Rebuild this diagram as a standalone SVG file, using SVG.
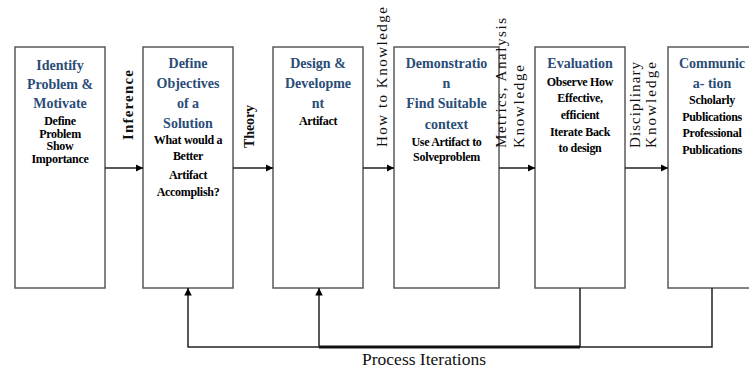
<svg xmlns="http://www.w3.org/2000/svg" width="749" height="369" viewBox="0 0 749 369">
<style>
text{font-family:'Liberation Serif','Times New Roman',Tinos,'DejaVu Serif',serif}
.box{fill:#fff;stroke:#5a5a5a;stroke-width:1.5}
.t{font-weight:bold;font-size:14px;fill:#2a4d78;text-anchor:middle}
.b{font-weight:bold;font-size:12px;fill:#000;text-anchor:middle;letter-spacing:-0.3px}
.lbl{font-size:15px;fill:#111}
.bold{font-weight:bold}
.ln{fill:none;stroke:#222;stroke-width:1.5}
</style>
<defs>
<marker id="ah" viewBox="0 0 10 10" refX="10" refY="5" markerWidth="5" markerHeight="5" orient="auto" markerUnits="strokeWidth">
<path d="M0,0 L10,5 L0,10 z" fill="#000"/>
</marker>
</defs>
<rect width="749" height="369" fill="#fff"/>

<g id="node1">
<rect class="box" x="15" y="47" width="90" height="241"/>
<text class="t" x="60" y="70">Identify</text>
<text class="t" x="60" y="89">Problem &amp;</text>
<text class="t" x="60" y="108">Motivate</text>
<text class="b" x="60" y="125">Define</text>
<text class="b" x="60" y="137.5">Problem</text>
<text class="b" x="60" y="150">Show</text>
<text class="b" x="60" y="162.5">Importance</text>
</g>

<g id="node2">
<rect class="box" x="143" y="47" width="90" height="241"/>
<text class="t" x="188" y="68">Define</text>
<text class="t" x="188" y="88">Objectives</text>
<text class="t" x="188" y="108">of a</text>
<text class="t" x="188" y="128">Solution</text>
<text class="b" x="188" y="144">What would a</text>
<text class="b" x="188" y="160">Better</text>
<text class="b" x="188" y="179">Artifact</text>
<text class="b" x="188" y="196">Accomplish?</text>
</g>

<g id="node3">
<rect class="box" x="273" y="47" width="90" height="241"/>
<text class="t" x="318" y="68">Design &amp;</text>
<text class="t" x="318" y="88">Developme</text>
<text class="t" x="318" y="108">nt</text>
<text class="b" x="318" y="125">Artifact</text>
</g>

<g id="node4">
<rect class="box" x="394" y="47" width="105" height="241"/>
<text class="t" x="446.5" y="68">Demonstratio</text>
<text class="t" x="446.5" y="88">n</text>
<text class="t" x="446.5" y="108">Find Suitable</text>
<text class="t" x="446.5" y="129">context</text>
<text class="b" x="446.5" y="146">Use Artifact to</text>
<text class="b" x="446.5" y="161">Solveproblem</text>
</g>

<g id="node5">
<rect class="box" x="535" y="47" width="90" height="241"/>
<text class="t" x="580" y="68">Evaluation</text>
<text class="b" x="580" y="86">Observe How</text>
<text class="b" x="580" y="102">Effective,</text>
<text class="b" x="580" y="119">efficient</text>
<text class="b" x="580" y="136">Iterate Back</text>
<text class="b" x="580" y="152">to design</text>
</g>

<g id="node6">
<rect class="box" x="668" y="47" width="90" height="241"/>
<text class="t" x="712" y="68">Communic</text>
<text class="t" x="712" y="88">a- tion</text>
<text class="b" x="712" y="104">Scholarly</text>
<text class="b" x="712" y="121">Publications</text>
<text class="b" x="712" y="137">Professional</text>
<text class="b" x="712" y="154">Publications</text>
</g>

<g id="connectors">
<line class="ln" x1="105" y1="168" x2="143" y2="168" marker-end="url(#ah)"/>
<line class="ln" x1="233" y1="168" x2="273" y2="168" marker-end="url(#ah)"/>
<line class="ln" x1="363" y1="168" x2="394" y2="168" marker-end="url(#ah)"/>
<line class="ln" x1="499" y1="168" x2="535" y2="168" marker-end="url(#ah)"/>
<line class="ln" x1="625" y1="168" x2="668" y2="168" marker-end="url(#ah)"/>
<polyline class="ln" points="580,288 580,347 712,347 712,288"/>
<line x1="319" y1="347" x2="580" y2="347" stroke="#111" stroke-width="3"/>
<polyline class="ln" points="319,347 188,347 188,288" marker-end="url(#ah)"/>
<line class="ln" x1="319" y1="347" x2="319" y2="288" marker-end="url(#ah)"/>
</g>

<g id="labels">
<text class="lbl bold" transform="translate(133,140) rotate(-90)" textLength="70" lengthAdjust="spacing">Inference</text>
<text class="lbl bold" transform="translate(254,148) rotate(-90)" style="font-size:14px" textLength="43" lengthAdjust="spacing">Theory</text>
<text class="lbl" transform="translate(387,147) rotate(-90)" textLength="140" lengthAdjust="spacing">How to Knowledge</text>
<text class="lbl" transform="translate(506,148) rotate(-90)" textLength="130" lengthAdjust="spacing">Metrics, Analysis</text>
<text class="lbl" transform="translate(524,148) rotate(-90)" textLength="83" lengthAdjust="spacing">Knowledge</text>
<text class="lbl" transform="translate(640,148) rotate(-90)" textLength="86" lengthAdjust="spacing">Disciplinary</text>
<text class="lbl" transform="translate(656,148) rotate(-90)" textLength="86" lengthAdjust="spacing">Knowledge</text>
<text class="lbl" x="424" y="365" text-anchor="middle" style="font-size:17.5px">Process Iterations</text>
</g>
</svg>
